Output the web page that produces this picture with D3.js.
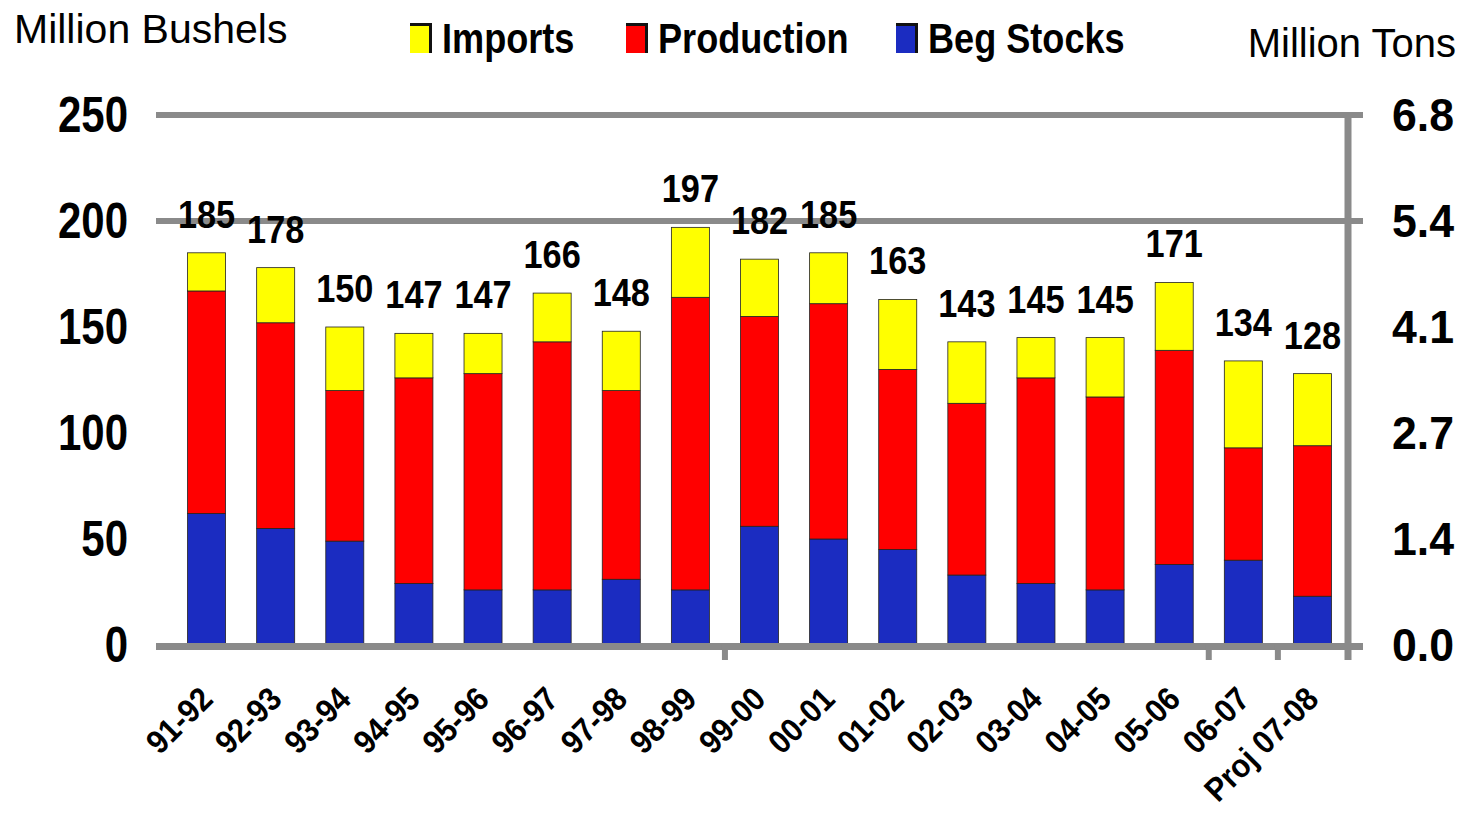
<!DOCTYPE html>
<html>
<head>
<meta charset="utf-8">
<script src="https://cdn.jsdelivr.net/npm/d3@7"></script>
<style>
  html, body { margin: 0; padding: 0; background: #ffffff; }
  svg { display: block; }
  .bold { font-family: "Liberation Sans", Arial, sans-serif; font-weight: bold; }
  .reg { font-family: "Liberation Sans", Arial, sans-serif; }
</style>
</head>
<body>
<svg id="chart" width="1469" height="816"></svg>
<script>
// ---- data ----
const categories = ["91-92","92-93","93-94","94-95","95-96","96-97","97-98","98-99","99-00","00-01","01-02","02-03","03-04","04-05","05-06","06-07","Proj 07-08"];
const begStocks  = [62, 55, 49, 29, 26, 26, 31, 26, 56, 50, 45, 33, 29, 26, 38, 40, 23];
const production = [105, 97, 71, 97, 102, 117, 89, 138, 99, 111, 85, 81, 97, 91, 101, 53, 71];
const imports    = [18, 26, 30, 21, 19, 23, 28, 33, 27, 24, 33, 29, 19, 28, 32, 41, 34];
const seriesNames = ["Imports", "Production", "Beg Stocks"];
const seriesColors = ["#ffff00", "#ff0000", "#1b2cc1"];
const leftTicks = [0, 50, 100, 150, 200, 250];
const rightTicks = [0, 1.36, 2.72, 4.08, 5.44, 6.8];
const gridValues = [200, 250];

// ---- layout ----
const svg = d3.select("#chart");
const y = d3.scaleLinear().domain([0, 250]).range([645, 115]);
const yRight = d3.scaleLinear().domain([0, 6.8]).range([645, 115]);
const x = d3.scaleBand().domain(categories).range([172, 1347]).paddingInner(0.45).paddingOuter(0.225);

const rows = categories.map((c, i) => ({
  cat: c,
  "Beg Stocks": begStocks[i],
  "Production": production[i],
  "Imports": imports[i]
}));
const total = d => d["Beg Stocks"] + d["Production"] + d["Imports"];
const stack = d3.stack().keys(["Beg Stocks", "Production", "Imports"]);
const stacked = stack(rows);
const color = d3.scaleOrdinal().domain(seriesNames).range(seriesColors);

// gridlines
const gridColor = "#8a8a8a";
svg.append("g").selectAll("line").data(gridValues).join("line")
  .attr("x1", 156).attr("x2", 1363)
  .attr("y1", d => y(d)).attr("y2", d => y(d))
  .attr("stroke", gridColor).attr("stroke-width", 6);

// bars
svg.append("g").selectAll("g").data(stacked).join("g")
  .attr("fill", d => color(d.key))
  .selectAll("rect").data(d => d).join("rect")
  .attr("x", d => x(d.data.cat))
  .attr("width", x.bandwidth())
  .attr("y", d => y(d[1]))
  .attr("height", d => y(d[0]) - y(d[1]))
  .attr("stroke", "#222").attr("stroke-width", 0.8);

// right vertical axis line
svg.append("line")
  .attr("x1", 1348).attr("x2", 1348)
  .attr("y1", y(250) - 3).attr("y2", 660)
  .attr("stroke", gridColor).attr("stroke-width", 7);

// baseline
svg.append("line")
  .attr("x1", 156).attr("x2", 1363)
  .attr("y1", y(0) + 1.5).attr("y2", y(0) + 1.5)
  .attr("stroke", gridColor).attr("stroke-width", 7);

// partial category boundary ticks
const step = x.step();
const tickCats = [categories[8], categories[15], categories[16]];
svg.append("g").selectAll("line").data(tickCats).join("line")
  .attr("x1", d => x(d) - (step - x.bandwidth()) / 2)
  .attr("x2", d => x(d) - (step - x.bandwidth()) / 2)
  .attr("y1", y(0)).attr("y2", 660)
  .attr("stroke", gridColor).attr("stroke-width", 6);

// total labels
svg.append("g").selectAll("text").data(rows).join("text")
  .attr("class", "bold")
  .attr("transform", d => `translate(${x(d.cat) + x.bandwidth() / 2},${y(total(d)) - 25}) scale(0.88,1)`)
  .attr("text-anchor", "middle")
  .attr("font-size", 39)
  .attr("fill", "#000")
  .text(d => total(d));

// left axis
const axL = svg.append("g").attr("transform", "translate(128,0)")
  .call(d3.axisLeft(y).tickValues(leftTicks).tickSize(0).tickPadding(0));
axL.select(".domain").remove();
axL.selectAll("text").attr("class", "bold").attr("font-size", 50).attr("fill", "#000")
  .attr("transform", "scale(0.84,1)");

// right axis
const axR = svg.append("g").attr("transform", "translate(1392,0)")
  .call(d3.axisRight(yRight).tickValues(rightTicks).tickFormat(d3.format(".1f")).tickSize(0).tickPadding(0));
axR.select(".domain").remove();
axR.selectAll("text").attr("class", "bold").attr("font-size", 47).attr("fill", "#000")
  .attr("transform", "scale(0.95,1)");

// x labels
svg.append("g").selectAll("text").data(categories).join("text")
  .attr("class", "bold")
  .attr("font-size", 33)
  .attr("text-anchor", "end")
  .attr("transform", d => `translate(${x(d) + x.bandwidth() / 2 + 8},${701}) rotate(-45) scale(0.92,1)`)
  .attr("fill", "#000")
  .text(d => d);

// axis titles
svg.append("text").attr("class", "reg").attr("x", 14).attr("y", 43)
  .attr("font-size", 41).attr("fill", "#000").text("Million Bushels");
svg.append("text").attr("class", "reg").attr("x", 1456).attr("y", 57)
  .attr("text-anchor", "end")
  .attr("font-size", 40).attr("fill", "#000").text("Million Tons");

// legend
const legendX = [410, 626, 896];
const lg = svg.append("g").selectAll("g").data(seriesNames).join("g")
  .attr("transform", (d, i) => `translate(${legendX[i]},23)`);
lg.append("rect").attr("width", 22).attr("height", 30).attr("fill", "#111");
lg.append("rect").attr("y", 3).attr("width", 19).attr("height", 27).attr("fill", d => color(d));
lg.append("text").attr("class", "bold").attr("transform", "translate(32,30) scale(0.86,1)")
  .attr("font-size", 42).attr("fill", "#000").text(d => d);
</script>
</body>
</html>
